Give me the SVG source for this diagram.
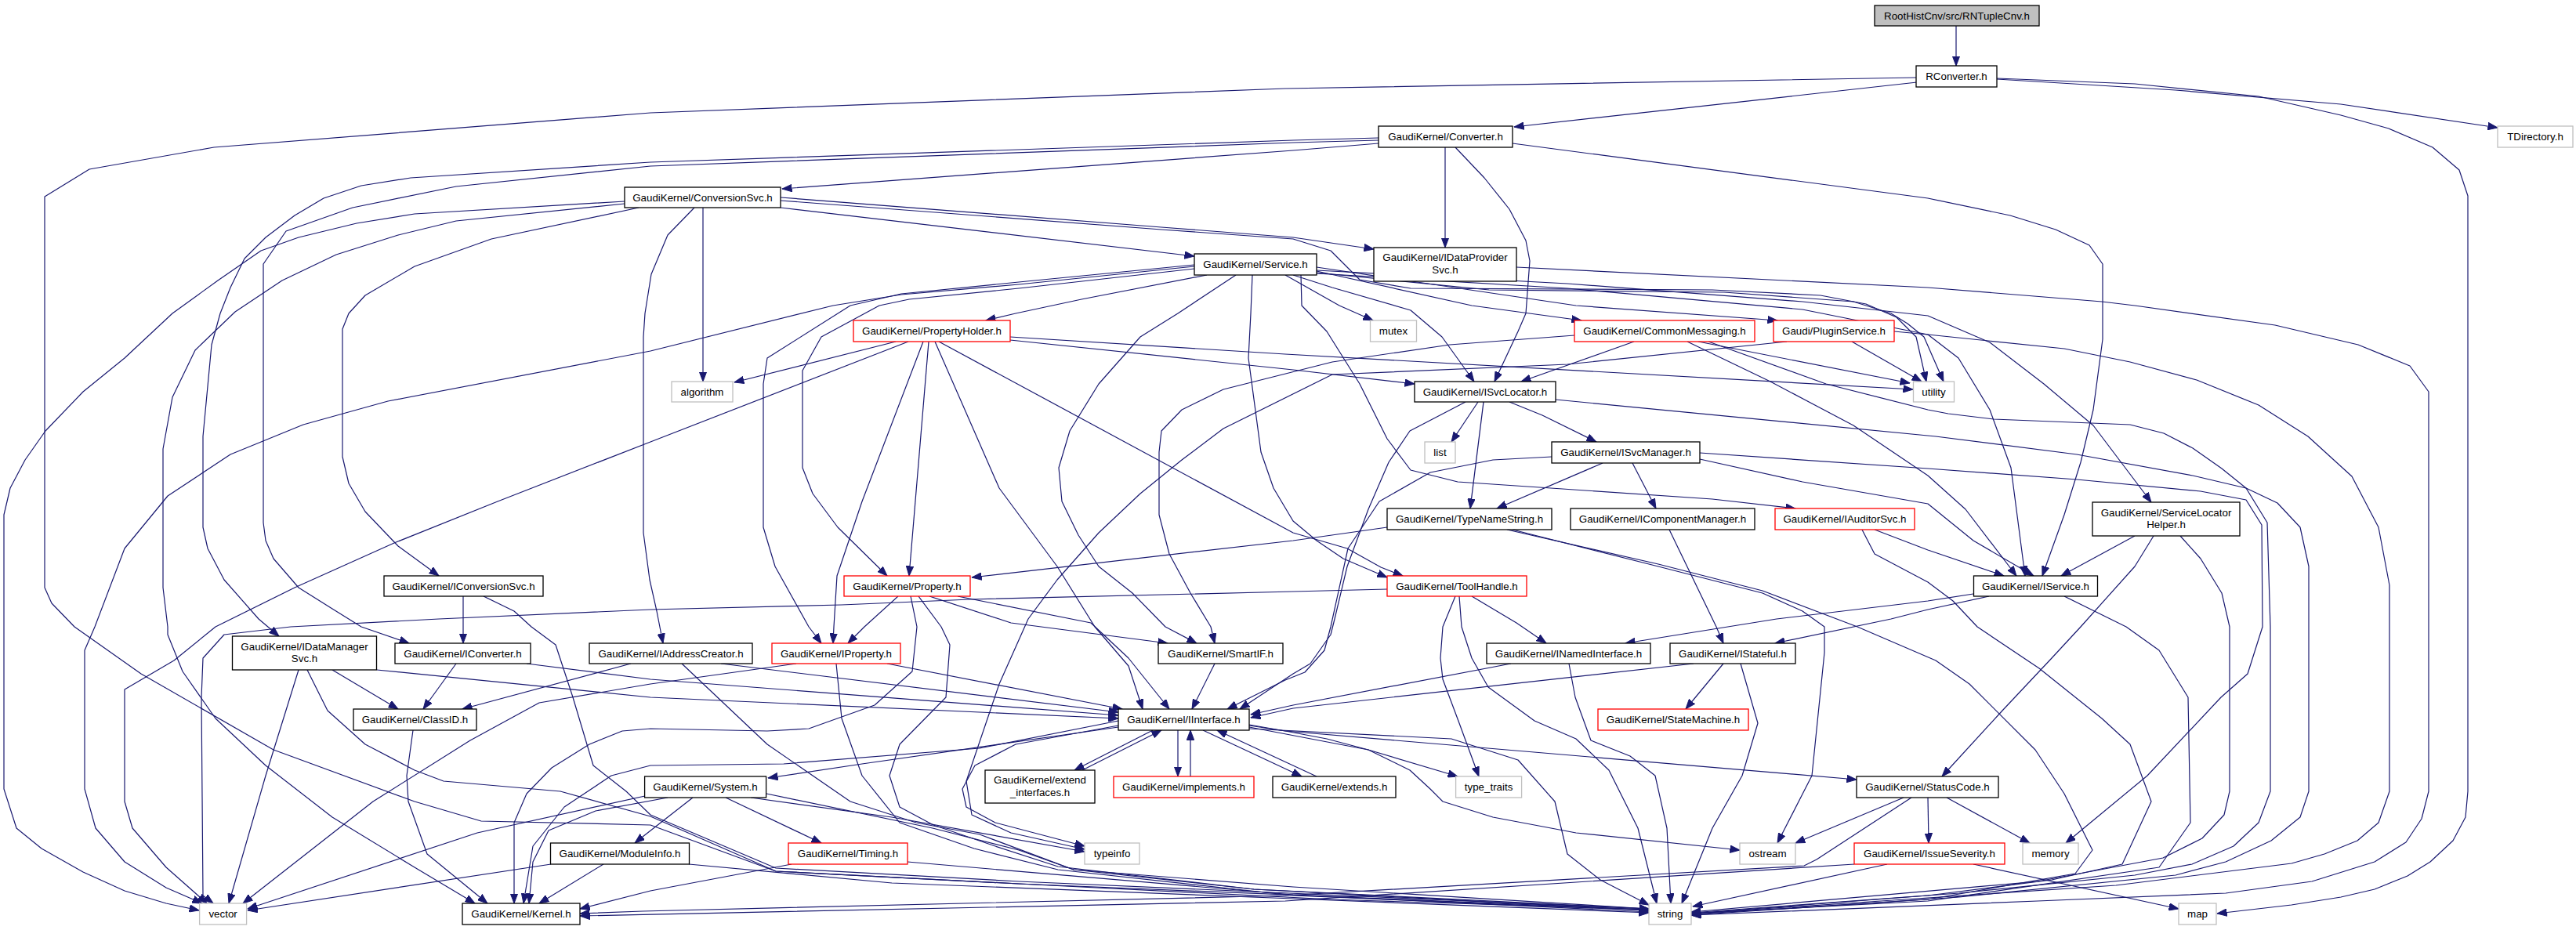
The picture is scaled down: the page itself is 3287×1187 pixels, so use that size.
<svg xmlns="http://www.w3.org/2000/svg" width="3287" height="1187" viewBox="0 0 3287 1187">
<style>
.n rect{fill:#fff;stroke:#000;stroke-width:1.3}
.g rect{stroke:#bfbfbf}
.r rect{stroke:#f00}
.top rect{fill:#bfbfbf}
text{font-family:"Liberation Sans",Arial,Helvetica,sans-serif;font-size:13.33px;text-anchor:middle;fill:#000}
#edges path{fill:none;stroke:#191970;stroke-width:1.2;stroke-linejoin:round;marker-end:url(#a)}
</style>
<defs>
<marker id="a" viewBox="0 0 13 10" refX="12.5" refY="5" markerWidth="13" markerHeight="10" markerUnits="userSpaceOnUse" orient="auto"><path d="M0,0.3 L12.5,5 L0,9.7 Z" fill="#191970" stroke="#191970" stroke-width="1"/></marker>
</defs>
<rect width="3287" height="1187" fill="#fff"/>
<g id="edges">
<path d="M2496,33 L2496,84"/>
<path d="M2446,105 L1932,162"/>
<path d="M2548,101 L2776,115 L2987,133 L3187,163"/>
<path d="M2548,100 L2724,107 L2882,123 L2987,147 L3048,164 L3104,188 L3138,217 L3149,250 L3149,1010 L3146,1043 L3130,1073 L3101,1100 L3072,1118 L3030,1135 L2987,1145 L2924,1155 L2829,1166"/>
<path d="M2445,99 L1640,113 L830,144 L273,188 L114,216 L57,251 L57,750 L66,770 L95,800 L180,860 L349,957 L529,1023 L614,1048 L830,1053 L990,1112 L1300,1128 L1700,1148 L2104,1161"/>
<path d="M1759,183 L1650,192 L998,241"/>
<path d="M1844,188 L1844,316"/>
<path d="M1857,188 L1894,227 L1926,267 L1947,307 L1952,333 L1947,400 L1937,423 L1907,487"/>
<path d="M1930,183 L2460,253 L2565,275 L2623,293 L2666,313 L2683,337 L2683,433 L2671,523 L2655,590 L2634,657 L2606,735"/>
<path d="M1759,176 L1650,179 L830,207 L524,227 L461,237 L413,253 L376,275 L339,303 L312,330 L294,367 L281,400 L270,440 L259,557 L259,673 L265,700 L286,740 L330,790 L356,812"/>
<path d="M1759,179 L1650,182 L830,212 L582,238 L450,265 L365,295 L336,337 L336,667 L339,690 L349,713 L381,750 L424,777 L461,800 L522,821"/>
<path d="M996,265 L1524,327"/>
<path d="M996,252 L1482,290 L1650,303 L1753,318"/>
<path d="M897,265 L897,487"/>
<path d="M815,265 L627,305 L529,340 L466,377 L445,400 L437,420 L437,583 L445,617 L466,653 L508,697 L560,735"/>
<path d="M886,265 L852,300 L831,350 L823,400 L821,430 L821,680 L829,740 L838,780 L846,821"/>
<path d="M797,257 L529,273 L455,285 L381,303 L333,320 L278,358 L220,400 L159,457 L106,500 L58,550 L32,587 L13,623 L5,657 L5,1007 L21,1057 L53,1083 L106,1113 L159,1137 L212,1153 L254,1162"/>
<path d="M797,260 L582,282 L508,300 L429,325 L360,358 L300,398 L249,447 L220,507 L208,573 L208,750 L214,800 L214,810 L233,857 L275,917 L339,977 L424,1043 L529,1107 L606,1153"/>
<path d="M996,256 L1482,293 L1650,305 L1698,320 L1718,340 L1735,357 L1800,368 L2185,370 L2323,377 L2381,388 L2420,405 L2445,430 L2458,487"/>
<path d="M1540,351 L1380,382 L1296,400 L1258,409"/>
<path d="M1640,351 L1709,390 L1752,409"/>
<path d="M1680,346 L1878,390 L2018,409"/>
<path d="M1680,341 L2011,390 L2268,409"/>
<path d="M1650,351 L1700,367 L1800,396 L1840,430 L1881,487"/>
<path d="M1524,343 L1300,368 L1160,382 L1122,390 L1048,430 L1024,473 L1024,597 L1037,630 L1069,673 L1132,735"/>
<path d="M1524,340 L1300,363 L1150,376 L1063,390 L830,448 L495,512 L387,542 L294,580 L214,633 L159,700 L121,800 L108,830 L108,1007 L122,1057 L159,1100 L212,1133 L258,1153"/>
<path d="M1524,338 L1300,360 L1150,375 L1085,390 L979,457 L974,490 L974,673 L989,723 L1032,800 L1048,821"/>
<path d="M1577,351 L1503,400 L1455,430 L1402,490 L1365,550 L1351,597 L1355,640 L1376,683 L1402,723 L1445,757 L1487,800 L1527,821"/>
<path d="M1598,351 L1596,400 L1593,457 L1609,577 L1625,623 L1650,665 L1680,690 L1714,713 L1770,737"/>
<path d="M1680,348 L1900,370 L2200,373 L2365,385 L2413,400 L2434,413 L2455,430 L2480,487"/>
<path d="M1680,349 L2000,368 L2300,395 L2460,427 L2499,457 L2539,523 L2566,597 L2584,735"/>
<path d="M1680,345 L2000,362 L2300,385 L2460,403 L2539,437 L2608,490 L2671,543 L2745,641"/>
<path d="M1660,351 L1661,390 L1693,423 L1735,490 L1770,560 L1800,600 L1860,615 L1979,623 L2185,637 L2291,649"/>
<path d="M1143,436 L937,488"/>
<path d="M1159,436 L830,564 L635,640 L503,693 L376,750 L275,800 L222,843 L159,880 L159,1023 L169,1057 L212,1107 L264,1153"/>
<path d="M1289,434 L1650,472 L1805,490"/>
<path d="M1289,430 L1640,452 L2441,497"/>
<path d="M1185,436 L1160,735"/>
<path d="M1178,436 L1100,640 L1068,735 L1064,800 L1063,821"/>
<path d="M1193,436 L1275,623 L1349,723 L1397,800 L1440,850 L1458,905"/>
<path d="M1198,436 L1650,680 L1719,700 L1762,724 L1790,735"/>
<path d="M2085,436 L1941,487"/>
<path d="M2167,436 L2437,489"/>
<path d="M2153,436 L2259,487 L2365,543 L2460,607 L2508,650 L2573,735"/>
<path d="M2009,428 L1850,440 L1700,462 L1561,497 L1508,523 L1482,550 L1479,577 L1479,657 L1492,707 L1519,757 L1545,800 L1550,821"/>
<path d="M2180,436 L2330,490 L2460,523 L2486,528 L2544,535 L2718,542 L2761,553 L2798,572 L2835,598 L2866,623 L2893,667 L2897,800 L2897,1010 L2882,1050 L2850,1080 L2797,1103 L2724,1117 L2500,1140 L2158,1165"/>
<path d="M2363,436 L2452,487"/>
<path d="M2417,423 L2460,427 L2634,445 L2718,462 L2803,485 L2882,517 L2945,557 L3001,608 L3035,673 L3049,747 L3049,1010 L3035,1050 L3008,1073 L2966,1090 L2924,1102 L2700,1130 L2400,1150 L2158,1166"/>
<path d="M2280,436 L2000,465 L1700,478 L1561,547 L1508,587 L1455,630 L1402,680 L1349,740 L1312,790 L1275,873 L1233,997 L1240,1040 L1290,1063 L1384,1084"/>
<path d="M1935,341 L2460,367 L2682,385 L2724,390 L2903,415 L3009,440 L3075,467 L3099,500 L3099,1010 L3090,1045 L3070,1075 L3030,1100 L2950,1125 L2840,1140 L2600,1150 L2158,1168"/>
<path d="M1886,513 L1852,564"/>
<path d="M1926,513 L1968,530 L2037,564"/>
<path d="M1893,513 L1876,649"/>
<path d="M1985,510 L2470,557 L2650,580 L2798,607 L2866,623 L2906,642 L2935,673 L2946,723 L2946,1010 L2935,1043 L2898,1073 L2840,1100 L2776,1117 L2500,1145 L2158,1168"/>
<path d="M1870,513 L1799,550 L1772,590 L1746,650 L1719,723 L1703,790 L1698,810 L1672,847 L1650,860 L1582,905"/>
<path d="M2045,591 L1910,649"/>
<path d="M2083,591 L2113,649"/>
<path d="M2169,586 L2300,615 L2460,643 L2518,690 L2595,735"/>
<path d="M2169,578 L2460,598 L2650,612 L2808,627 L2866,638 L2886,670 L2887,800 L2868,860 L2834,890 L2740,990 L2636,1076"/>
<path d="M1980,583 L1905,587 L1825,603 L1760,640 L1720,700 L1698,800 L1690,830 L1665,858 L1640,868 L1566,905"/>
<path d="M1770,673 L1650,690 L1240,737"/>
<path d="M1930,676 L2116,723 L2249,757 L2300,780 L2328,800 L2328,833 L2312,990 L2268,1076"/>
<path d="M1923,676 L2116,720 L2249,754 L2370,800 L2470,843 L2513,873 L2597,957 L2634,1013 L2670,1085 L2648,1115 L2460,1148 L2158,1167"/>
<path d="M2130,676 L2190,800 L2199,821"/>
<path d="M2392,676 L2460,702 L2557,735"/>
<path d="M2376,676 L2392,707 L2460,743 L2492,767 L2523,800 L2602,853 L2682,917 L2718,950 L2745,1023 L2708,1103 L2618,1123 L2460,1143 L2158,1166"/>
<path d="M2724,684 L2630,735"/>
<path d="M2748,684 L2724,723 L2655,800 L2618,840 L2555,907 L2478,991"/>
<path d="M2782,684 L2808,713 L2835,757 L2845,800 L2845,1010 L2838,1040 L2810,1070 L2760,1095 L2600,1125 L2158,1164"/>
<path d="M2518,758 L2460,767 L2267,790 L2074,821"/>
<path d="M2538,761 L2460,778 L2413,790 L2265,821"/>
<path d="M2634,761 L2713,800 L2755,830 L2792,890 L2795,1050 L2755,1107 L2460,1150 L2158,1166"/>
<path d="M1146,761 L1103,800 L1082,821"/>
<path d="M1186,761 L1290,795 L1490,821"/>
<path d="M1222,761 L1392,795 L1440,840 L1492,905"/>
<path d="M1162,761 L1170,800 L1164,857 L1116,900 L1032,930 L979,933 L830,930 L794,933 L752,950 L704,980 L672,1013 L656,1050 L656,1153"/>
<path d="M1172,761 L1201,800 L1212,823 L1207,890 L1148,950 L1135,990 L1148,1030 L1191,1053 L1270,1080 L1350,1106 L1600,1135 L2104,1160"/>
<path d="M1770,752 L1650,755 L1238,765 L1074,772 L830,778 L560,790 L371,800 L286,810 L259,840 L257,890 L259,1143 L272,1153"/>
<path d="M1878,761 L1935,795 L1973,821"/>
<path d="M1857,761 L1841,800 L1838,840 L1841,867 L1862,923 L1887,991"/>
<path d="M1862,761 L1865,800 L1878,840 L1899,877 L1958,920 L2011,943 L2053,983 L2090,1057 L2114,1153"/>
<path d="M591,761 L591,821"/>
<path d="M617,761 L656,780 L678,800 L709,823 L731,890 L757,977 L799,1010 L830,1040 L990,1108 L1300,1125 L2104,1160"/>
<path d="M424,855 L508,905"/>
<path d="M381,855 L339,990 L292,1153"/>
<path d="M481,855 L830,890 L1427,917"/>
<path d="M392,855 L418,907 L466,950 L529,983 L566,997 L715,1010 L830,1042 L990,1112 L1300,1128 L2104,1161"/>
<path d="M582,847 L540,905"/>
<path d="M672,847 L830,867 L1427,913"/>
<path d="M805,847 L590,905"/>
<path d="M920,847 L1427,909"/>
<path d="M870,847 L979,950 L1085,1023 L1169,1050 L1250,1065 L1370,1110 L1600,1135 L2104,1162"/>
<path d="M1132,847 L1432,905"/>
<path d="M1016,847 L830,873 L688,897 L600,945 L476,1023 L310,1153"/>
<path d="M1067,847 L1074,917 L1100,990 L1148,1050 L1243,1083 L1350,1110 L1650,1143 L2104,1162"/>
<path d="M1550,847 L1521,905"/>
<path d="M1928,847 L1650,900 L1596,912"/>
<path d="M2002,847 L2010,890 L2030,945 L2080,965 L2112,990 L2127,1057 L2132,1153"/>
<path d="M2199,847 L2151,905"/>
<path d="M2161,847 L1650,904 L1596,916"/>
<path d="M2221,847 L2243,923 L2223,990 L2185,1057 L2146,1153"/>
<path d="M527,932 L519,990 L521,1023 L545,1090 L622,1153"/>
<path d="M1427,928 L1100,975 L980,993"/>
<path d="M1427,920 L1250,955 L1000,975 L830,977 L780,990 L720,1030 L680,1080 L668,1153"/>
<path d="M1427,926 L1296,950 L1244,977 L1228,1007 L1233,1030 L1270,1050 L1384,1080"/>
<path d="M1594,925 L1640,933 L1693,943 L1746,957 L1860,991"/>
<path d="M1594,928 L1746,957 L1799,983 L1825,1007 L1841,1023 L1905,1043 L2011,1063 L2220,1085"/>
<path d="M1594,926 L1640,933 L2369,995"/>
<path d="M1594,930 L1852,943 L1937,970 L1984,1023 L2000,1090 L2042,1123 L2104,1155"/>
<path d="M1471,932 L1371,983"/>
<path d="M1381,983 L1482,932"/>
<path d="M1503,932 L1503,991"/>
<path d="M1519,991 L1519,932"/>
<path d="M1535,932 L1661,991"/>
<path d="M1680,991 L1553,932"/>
<path d="M823,1016 L609,1063 L316,1160"/>
<path d="M852,1018 L760,1035 L700,1060 L680,1100 L675,1153"/>
<path d="M884,1018 L820,1068 L810,1076"/>
<path d="M926,1018 L1048,1076"/>
<path d="M958,1018 L1138,1043 L1384,1087"/>
<path d="M978,1013 L1190,1057 L1300,1085 L1370,1110 L1650,1132 L2104,1160"/>
<path d="M703,1103 L316,1162"/>
<path d="M770,1103 L688,1153"/>
<path d="M879,1103 L1138,1127 L1650,1147 L2104,1165"/>
<path d="M1010,1103 L830,1137 L740,1160"/>
<path d="M1158,1100 L1650,1142 L2104,1164"/>
<path d="M2429,1018 L2291,1076"/>
<path d="M2460,1018 L2461,1076"/>
<path d="M2484,1018 L2590,1076"/>
<path d="M2439,1018 L2318,1097 L2302,1105 L1640,1143 L820,1163 L740,1166"/>
<path d="M2408,1103 L2160,1157"/>
<path d="M2518,1103 L2780,1160"/>
<path d="M2366,1103 L1640,1150 L740,1169"/>
</g>
<g id="n_RNTupleCnv" class="n top"><rect x="2392" y="7" width="210" height="26"/><text x="2497" y="24.5">RootHistCnv/src/RNTupleCnv.h</text></g>
<g id="n_RConverter" class="n"><rect x="2445" y="84" width="103" height="27"/><text x="2496.5" y="102">RConverter.h</text></g>
<g id="n_TDirectory" class="n g"><rect x="3187" y="161" width="96" height="27"/><text x="3235" y="179">TDirectory.h</text></g>
<g id="n_Converter" class="n"><rect x="1759" y="161" width="171" height="27"/><text x="1844.5" y="179">GaudiKernel/Converter.h</text></g>
<g id="n_ConversionSvc" class="n"><rect x="797" y="239" width="199" height="26"/><text x="896.5" y="256.8">GaudiKernel/ConversionSvc.h</text></g>
<g id="n_Service" class="n"><rect x="1524" y="324" width="156" height="27"/><text x="1602" y="342">GaudiKernel/Service.h</text></g>
<g id="n_IDataProviderSvc" class="n"><rect x="1753" y="316" width="182" height="43"/><text x="1844" y="333.3">GaudiKernel/IDataProvider</text><text x="1844" y="348.7">Svc.h</text></g>
<g id="n_algorithm" class="n g"><rect x="857" y="487" width="78" height="26"/><text x="896" y="505">algorithm</text></g>
<g id="n_PropertyHolder" class="n r"><rect x="1089" y="409" width="200" height="27"/><text x="1189" y="427.3">GaudiKernel/PropertyHolder.h</text></g>
<g id="n_mutex" class="n g"><rect x="1748.5" y="409" width="59" height="27"/><text x="1778" y="427.3">mutex</text></g>
<g id="n_CommonMessaging" class="n r"><rect x="2009" y="409" width="230" height="27"/><text x="2124" y="427.3">GaudiKernel/CommonMessaging.h</text></g>
<g id="n_PluginService" class="n r"><rect x="2263" y="409" width="154" height="27"/><text x="2340" y="427.3">Gaudi/PluginService.h</text></g>
<g id="n_utility" class="n g"><rect x="2441.5" y="487" width="52" height="26"/><text x="2467.5" y="505">utility</text></g>
<g id="n_ISvcLocator" class="n"><rect x="1805" y="487" width="180" height="26"/><text x="1895" y="505">GaudiKernel/ISvcLocator.h</text></g>
<g id="n_list" class="n g"><rect x="1818" y="564" width="39" height="27"/><text x="1837.5" y="582.3">list</text></g>
<g id="n_ISvcManager" class="n"><rect x="1980" y="564" width="189" height="27"/><text x="2074.5" y="582.3">GaudiKernel/ISvcManager.h</text></g>
<g id="n_TypeNameString" class="n"><rect x="1770" y="649" width="210" height="27"/><text x="1875" y="667.2">GaudiKernel/TypeNameString.h</text></g>
<g id="n_IComponentManager" class="n"><rect x="2004" y="649" width="235" height="27"/><text x="2121.5" y="667.2">GaudiKernel/IComponentManager.h</text></g>
<g id="n_IAuditorSvc" class="n r"><rect x="2265" y="649" width="178" height="27"/><text x="2354" y="667.2">GaudiKernel/IAuditorSvc.h</text></g>
<g id="n_ServiceLocatorHelper" class="n"><rect x="2670" y="641" width="188" height="43"/><text x="2764" y="658.6">GaudiKernel/ServiceLocator</text><text x="2764" y="674">Helper.h</text></g>
<g id="n_Property" class="n r"><rect x="1077" y="735" width="161" height="26"/><text x="1157.5" y="752.7">GaudiKernel/Property.h</text></g>
<g id="n_ToolHandle" class="n r"><rect x="1770" y="735" width="178" height="26"/><text x="1859" y="752.7">GaudiKernel/ToolHandle.h</text></g>
<g id="n_IService" class="n"><rect x="2518.5" y="735" width="158" height="26"/><text x="2597.5" y="752.7">GaudiKernel/IService.h</text></g>
<g id="n_IConversionSvc" class="n"><rect x="490" y="735" width="203" height="26"/><text x="591.5" y="752.7">GaudiKernel/IConversionSvc.h</text></g>
<g id="n_IDataManagerSvc" class="n"><rect x="296.5" y="812" width="184" height="43"/><text x="388.5" y="829.6">GaudiKernel/IDataManager</text><text x="388.5" y="845">Svc.h</text></g>
<g id="n_IConverter" class="n"><rect x="504" y="821" width="173" height="26"/><text x="590.5" y="838.5">GaudiKernel/IConverter.h</text></g>
<g id="n_IAddressCreator" class="n"><rect x="752" y="821" width="208" height="26"/><text x="856" y="838.5">GaudiKernel/IAddressCreator.h</text></g>
<g id="n_IProperty" class="n r"><rect x="985" y="821" width="164" height="26"/><text x="1067" y="838.5">GaudiKernel/IProperty.h</text></g>
<g id="n_SmartIF" class="n"><rect x="1478" y="821" width="159" height="26"/><text x="1557.5" y="838.5">GaudiKernel/SmartIF.h</text></g>
<g id="n_INamedInterface" class="n"><rect x="1897" y="821" width="209" height="26"/><text x="2001.5" y="838.5">GaudiKernel/INamedInterface.h</text></g>
<g id="n_IStateful" class="n"><rect x="2131" y="821" width="160" height="26"/><text x="2211" y="838.5">GaudiKernel/IStateful.h</text></g>
<g id="n_ClassID" class="n"><rect x="451" y="905" width="157" height="27"/><text x="529.5" y="923.3">GaudiKernel/ClassID.h</text></g>
<g id="n_IInterface" class="n"><rect x="1427" y="905" width="167" height="27"/><text x="1510.5" y="923.3">GaudiKernel/IInterface.h</text></g>
<g id="n_StateMachine" class="n r"><rect x="2039" y="905" width="192" height="27"/><text x="2135" y="923.3">GaudiKernel/StateMachine.h</text></g>
<g id="n_System" class="n"><rect x="822.6" y="991" width="155" height="27"/><text x="900" y="1009">GaudiKernel/System.h</text></g>
<g id="n_extend_interfaces" class="n"><rect x="1257" y="983" width="140" height="42"/><text x="1327" y="1000.3">GaudiKernel/extend</text><text x="1327" y="1015.7">_interfaces.h</text></g>
<g id="n_implements" class="n r"><rect x="1421" y="991" width="179" height="27"/><text x="1510.5" y="1009">GaudiKernel/implements.h</text></g>
<g id="n_extends" class="n"><rect x="1624" y="991" width="157" height="27"/><text x="1702.5" y="1009">GaudiKernel/extends.h</text></g>
<g id="n_type_traits" class="n g"><rect x="1857.6" y="991" width="84" height="27"/><text x="1899.6" y="1009">type_traits</text></g>
<g id="n_StatusCode" class="n"><rect x="2369" y="991" width="181" height="27"/><text x="2459.5" y="1009">GaudiKernel/StatusCode.h</text></g>
<g id="n_ModuleInfo" class="n"><rect x="702.5" y="1076" width="177" height="27"/><text x="791" y="1094.2">GaudiKernel/ModuleInfo.h</text></g>
<g id="n_Timing" class="n r"><rect x="1006" y="1076" width="152" height="27"/><text x="1082" y="1094.2">GaudiKernel/Timing.h</text></g>
<g id="n_typeinfo" class="n g"><rect x="1384" y="1076" width="70" height="27"/><text x="1419" y="1094.2">typeinfo</text></g>
<g id="n_ostream" class="n g"><rect x="2220" y="1076" width="71" height="27"/><text x="2255.5" y="1094.2">ostream</text></g>
<g id="n_IssueSeverity" class="n r"><rect x="2366" y="1076" width="192" height="27"/><text x="2462" y="1094.2">GaudiKernel/IssueSeverity.h</text></g>
<g id="n_memory" class="n g"><rect x="2581" y="1076" width="71" height="27"/><text x="2616.5" y="1094.2">memory</text></g>
<g id="n_vector" class="n g"><rect x="254.6" y="1153" width="60" height="27"/><text x="284.6" y="1171">vector</text></g>
<g id="n_Kernel" class="n"><rect x="590" y="1153" width="150" height="27"/><text x="665" y="1171">GaudiKernel/Kernel.h</text></g>
<g id="n_string" class="n g"><rect x="2104" y="1153" width="54" height="27"/><text x="2131" y="1171">string</text></g>
<g id="n_map" class="n g"><rect x="2780" y="1153" width="48" height="27"/><text x="2804" y="1171">map</text></g>
</svg>
